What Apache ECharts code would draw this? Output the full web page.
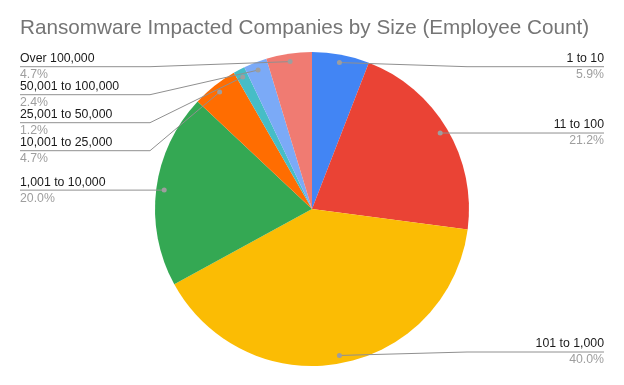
<!DOCTYPE html>
<html>
<head>
<meta charset="utf-8">
<script src="https://cdn.jsdelivr.net/npm/echarts@6/dist/echarts.min.js"></script>
<style>
html,body{margin:0;padding:0;background:#fff;}
#chart{width:624px;height:385px;}
</style>
</head>
<body>
<div id="chart"></div>
<script>
const titleText = 'Ransomware Impacted Companies by Size (Employee Count)';
const categories = ['1 to 10', '11 to 100', '101 to 1,000', '1,001 to 10,000', '10,001 to 25,000', '25,001 to 50,000', '50,001 to 100,000', 'Over 100,000'];
const values = [5.9, 21.2, 40.0, 20.0, 4.7, 1.2, 2.4, 4.7];
const colors = ['#4285F4', '#EA4335', '#FBBC04', '#34A853', '#FF6D01', '#46BDC6', '#7BAAF7', '#F07B72'];

const CX = 312, CY = 209, R = 157;
const FONT = 'Arial, "Liberation Sans", Helvetica, sans-serif';

// compute label geometry from data
const total = values.reduce((a, b) => a + b, 0);
let acc = 0;
const info = values.map((v, i) => {
  const mid = (acc + v / 2) / total * 2 * Math.PI;
  acc += v;
  const dx = Math.sin(mid), dy = -Math.cos(mid);
  return { i, side: mid > Math.PI ? 'left' : 'right', dotX: CX + dx * (R - 8), dotY: CY + dy * (R - 8) };
});
const MINY = 66.7, MAXY = 352, GAP = 28;
['left', 'right'].forEach(side => {
  const arr = info.filter(o => o.side === side).sort((a, b) => a.dotY - b.dotY);
  let prev = -Infinity;
  arr.forEach(o => {
    let y = Math.min(Math.max(o.dotY, MINY), MAXY);
    if (y < prev + GAP) y = prev + GAP;
    o.lineY = y;
    prev = y;
  });
});
info.forEach(o => {
  const left = o.side === 'left';
  o.endX = left ? 20 : 604;
  o.elbowX = left ? CX - R - 5 : CX + R - 2;
  o.points = [[o.dotX, o.dotY], [o.elbowX, o.lineY], [o.endX, o.lineY]];
});

const chart = echarts.init(document.getElementById('chart'), null, { renderer: 'canvas' });
chart.setOption({
  backgroundColor: '#ffffff',
  animation: false,
  title: {
    text: titleText,
    left: 20,
    top: 17,
    padding: 0,
    textStyle: { fontFamily: FONT, fontSize: 20.7, fontWeight: 'normal', color: '#757575', lineHeight: 22 }
  },
  color: colors,
  series: [{
    type: 'pie',
    center: [CX, CY],
    radius: [0, R],
    startAngle: 90,
    clockwise: true,
    avoidLabelOverlap: false,
    emphasis: { disabled: true },
    itemStyle: { borderWidth: 0 },
    data: categories.map((c, i) => ({ name: c, value: values[i] })),
    label: {
      show: true,
      position: 'outer',
      fontFamily: FONT,
      formatter: p => '{n|' + p.name + '}\n{p|' + values[p.dataIndex].toFixed(1) + '%}',
      rich: {
        n: { fontFamily: FONT, fontSize: 12.3, color: '#1a1a1a', lineHeight: 16 },
        p: { fontFamily: FONT, fontSize: 12.3, color: '#9e9e9e', lineHeight: 16 }
      }
    },
    labelLine: { show: false },
    labelLayout: function (p) {
      const o = info[p.dataIndex];
      const left = o.side === 'left';
      return {
        x: o.endX,
        y: o.lineY,
        align: left ? 'left' : 'right',
        verticalAlign: 'middle'
      };
    }
  }],
  graphic: info.map(o => ({
    type: 'polyline',
    silent: true,
    z: 100,
    shape: { points: o.points },
    style: { stroke: '#909090', lineWidth: 1, fill: null }
  })).concat(info.map(o => ({
    type: 'circle',
    silent: true,
    z: 101,
    shape: { cx: o.dotX, cy: o.dotY, r: 2.5 },
    style: { fill: '#9e9e9e' }
  })))
});
</script>
</body>
</html>
